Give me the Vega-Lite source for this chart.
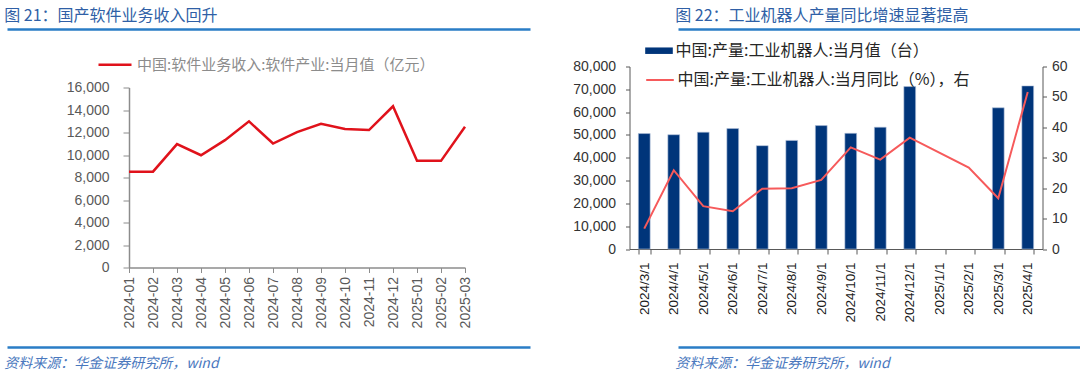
{
  "$schema": "https://vega.github.io/schema/vega-lite/v6.json",
  "background": "white",
  "padding": {"left": 4, "top": 7, "right": 0, "bottom": 0},
  "config": {"view": {"stroke": null}, "font": "Liberation Sans", "axis": {"grid": false}},
  "spacing": 4.5,
  "resolve": {"scale": {"stroke": "independent", "fill": "independent"}, "legend": {"stroke": "independent", "fill": "independent"}},
  "vconcat": [
    {
      "spacing": 23,
      "hconcat": [
        {
          "width": 401, "height": 1,
          "title": {"text": "图 21：国产软件业务收入回升", "anchor": "start", "font": "Noto Sans CJK SC", "fontSize": 16, "fontWeight": "normal", "color": "#2F5FA6", "offset": 2},
          "data": {"values": [{"v": 0}]},
          "mark": {"type": "point", "opacity": 0},
          "encoding": {"x": {"field": "v", "type": "quantitative", "scale": {"domain": [0, 1], "range": [-122, 401]}, "axis": {"orient": "bottom", "title": null, "labels": false, "ticks": false, "domainColor": "#2A7DC6", "domainWidth": 2.5, "minExtent": 0, "maxExtent": 0}}}
        },
        {
          "width": 525, "height": 1,
          "title": {"text": "图 22：工业机器人产量同比增速显著提高", "anchor": "start", "font": "Noto Sans CJK SC", "fontSize": 16, "fontWeight": "normal", "color": "#2F5FA6", "offset": 2},
          "data": {"values": [{"v": 0}]},
          "mark": {"type": "point", "opacity": 0},
          "encoding": {"x": {"field": "v", "type": "quantitative", "scale": {"domain": [0, 1]}, "axis": {"orient": "bottom", "title": null, "labels": false, "ticks": false, "domainColor": "#2A7DC6", "domainWidth": 2.5, "minExtent": 0, "maxExtent": 0}}}
        }
      ]
    },
    {
      "spacing": 82.5,
      "resolve": {"scale": {"stroke": "independent", "fill": "independent"}, "legend": {"stroke": "independent", "fill": "independent"}},
      "hconcat": [
        {
          "width": 336, "height": 201,
          "data": {"values": [
            {"m": "2024-01", "v": 8520}, {"m": "2024-02", "v": 8520}, {"m": "2024-03", "v": 10970},
            {"m": "2024-04", "v": 9980}, {"m": "2024-05", "v": 11320}, {"m": "2024-06", "v": 12990},
            {"m": "2024-07", "v": 11020}, {"m": "2024-08", "v": 12040}, {"m": "2024-09", "v": 12780},
            {"m": "2024-10", "v": 12310}, {"m": "2024-11", "v": 12220}, {"m": "2024-12", "v": 14330},
            {"m": "2025-01", "v": 9480}, {"m": "2025-02", "v": 9480}, {"m": "2025-03", "v": 12510}
          ]},
          "mark": {"type": "line", "strokeWidth": 2.5},
          "encoding": {
            "x": {"field": "m", "type": "ordinal", "scale": {"type": "point", "padding": 0},
              "axis": {"title": null, "labelAngle": -90, "labelFontSize": 14, "labelColor": "#595959", "domainColor": "#8c8c8c", "domainWidth": 1.5, "tickColor": "#8c8c8c", "tickSize": 5, "labelPadding": 4, "minExtent": 66, "maxExtent": 66}},
            "y": {"field": "v", "type": "quantitative", "scale": {"domain": [0, 16000], "nice": false, "range": [201, 21]},
              "axis": {"title": null, "values": [0, 2000, 4000, 6000, 8000, 10000, 12000, 14000, 16000], "format": ",.0f", "labelFontSize": 14, "labelColor": "#595959", "domainColor": "#8c8c8c", "domainWidth": 1.5, "tickColor": "#8c8c8c", "tickSize": 6, "labelPadding": 14, "minExtent": 122, "maxExtent": 122}},
            "stroke": {"datum": "中国:软件业务收入:软件产业:当月值（亿元）", "scale": {"range": ["#E0121B"]},
              "legend": {"orient": "none", "legendX": -32, "legendY": -19.8, "title": null, "padding": 0, "symbolType": "stroke", "symbolSize": 1089, "symbolStrokeWidth": 2.5, "labelFont": "Noto Sans CJK SC", "labelFontSize": 15, "labelColor": "#8c8c8c", "labelOffset": 4, "labelLimit": 600}}
          }
        },
        {
          "width": 413, "height": 182.5,
          "data": {"values": [
            {"d": "2024/3/1", "u": 50600, "yoy": 6.7},
            {"d": "2024/4/1", "u": 50100, "yoy": 25.9},
            {"d": "2024/5/1", "u": 51200, "yoy": 14.1},
            {"d": "2024/6/1", "u": 52800, "yoy": 12.4},
            {"d": "2024/7/1", "u": 45300, "yoy": 19.8},
            {"d": "2024/8/1", "u": 47600, "yoy": 20.0},
            {"d": "2024/9/1", "u": 54100, "yoy": 22.7},
            {"d": "2024/10/1", "u": 50700, "yoy": 33.4},
            {"d": "2024/11/1", "u": 53400, "yoy": 29.4},
            {"d": "2024/12/1", "u": 71200, "yoy": 36.6},
            {"d": "2025/1/1", "u": null, "yoy": null},
            {"d": "2025/2/1", "u": null, "yoy": 26.8},
            {"d": "2025/3/1", "u": 61900, "yoy": 16.7},
            {"d": "2025/4/1", "u": 71500, "yoy": 51.6}
          ]},
          "encoding": {
            "x": {"field": "d", "type": "ordinal",
              "scale": {"domain": ["2024/3/1", "2024/4/1", "2024/5/1", "2024/6/1", "2024/7/1", "2024/8/1", "2024/9/1", "2024/10/1", "2024/11/1", "2024/12/1", "2025/1/1", "2025/2/1", "2025/3/1", "2025/4/1"], "paddingInner": 0.6, "paddingOuter": 0.3},
              "axis": {"title": null, "labelAngle": -90, "labelFontSize": 13.5, "labelColor": "#1a1a1a", "domainColor": "#595959", "tickColor": "#595959", "tickSize": 5, "tickBand": "extent", "labelPadding": 8, "minExtent": 90, "maxExtent": 90}}
          },
          "layer": [
            {
              "mark": {"type": "bar", "stroke": "#b3c3dc", "strokeWidth": 0.6},
              "encoding": {
                "y": {"field": "u", "type": "quantitative", "scale": {"domain": [0, 80000], "nice": false},
                  "axis": {"title": null, "values": [0, 10000, 20000, 30000, 40000, 50000, 60000, 70000, 80000], "format": ",.0f", "labelFontSize": 14, "labelColor": "#333333", "domainColor": "#595959", "tickColor": "#595959", "tickSize": 4, "labelPadding": 10, "minExtent": 74.5, "maxExtent": 74.5}},
                "fill": {"datum": "中国:产量:工业机器人:当月值（台）", "scale": {"range": ["#00357A"]},
                  "legend": {"orient": "none", "legendX": 15.5, "legendY": -29.8, "title": null, "padding": 0, "symbolType": "M-1,-0.235L1,-0.235L1,0.235L-1,0.235Z", "symbolSize": 762, "symbolStrokeWidth": 0, "labelFont": "Noto Sans CJK SC", "labelFontSize": 16, "labelColor": "#262626", "labelOffset": 2.5, "labelLimit": 600}}
              }
            },
            {
              "transform": [{"filter": "datum.yoy != null"}],
              "mark": {"type": "line", "strokeWidth": 2},
              "encoding": {
                "y": {"field": "yoy", "type": "quantitative", "scale": {"domain": [0, 60], "nice": false},
                  "axis": {"orient": "right", "title": null, "values": [0, 10, 20, 30, 40, 50, 60], "labelFontSize": 14, "labelColor": "#333333", "domainColor": "#595959", "tickColor": "#595959", "tickSize": 4, "labelPadding": 5}},
                "stroke": {"datum": "中国:产量:工业机器人:当月同比（%），右", "scale": {"range": ["#F65A5B"]},
                  "legend": {"orient": "none", "legendX": 15.5, "legendY": -1.5, "title": null, "padding": 0, "symbolType": "stroke", "symbolSize": 762, "symbolStrokeWidth": 2, "labelFont": "Noto Sans CJK SC", "labelFontSize": 16, "labelColor": "#262626", "labelOffset": 2.5, "labelLimit": 600}}
              }
            }
          ],
          "resolve": {"scale": {"y": "independent"}}
        }
      ]
    },
    {
      "spacing": 23,
      "hconcat": [
        {
          "width": 401, "height": 1,
          "title": {"text": "资料来源：华金证券研究所，wind", "orient": "bottom", "anchor": "start", "font": "Noto Sans CJK SC", "fontSize": 14, "fontStyle": "italic", "fontWeight": "normal", "color": "#4A78BE", "offset": 7},
          "data": {"values": [{"v": 0}]},
          "mark": {"type": "point", "opacity": 0},
          "encoding": {"x": {"field": "v", "type": "quantitative", "scale": {"domain": [0, 1], "range": [-122, 401]}, "axis": {"orient": "top", "title": null, "labels": false, "ticks": false, "domainColor": "#2A7DC6", "domainWidth": 2.5, "minExtent": 0, "maxExtent": 0}}}
        },
        {
          "width": 525, "height": 1,
          "title": {"text": "资料来源：华金证券研究所，wind", "orient": "bottom", "anchor": "start", "font": "Noto Sans CJK SC", "fontSize": 14, "fontStyle": "italic", "fontWeight": "normal", "color": "#4A78BE", "offset": 7},
          "data": {"values": [{"v": 0}]},
          "mark": {"type": "point", "opacity": 0},
          "encoding": {"x": {"field": "v", "type": "quantitative", "scale": {"domain": [0, 1]}, "axis": {"orient": "top", "title": null, "labels": false, "ticks": false, "domainColor": "#2A7DC6", "domainWidth": 2.5, "minExtent": 0, "maxExtent": 0}}}
        }
      ]
    }
  ]
}
